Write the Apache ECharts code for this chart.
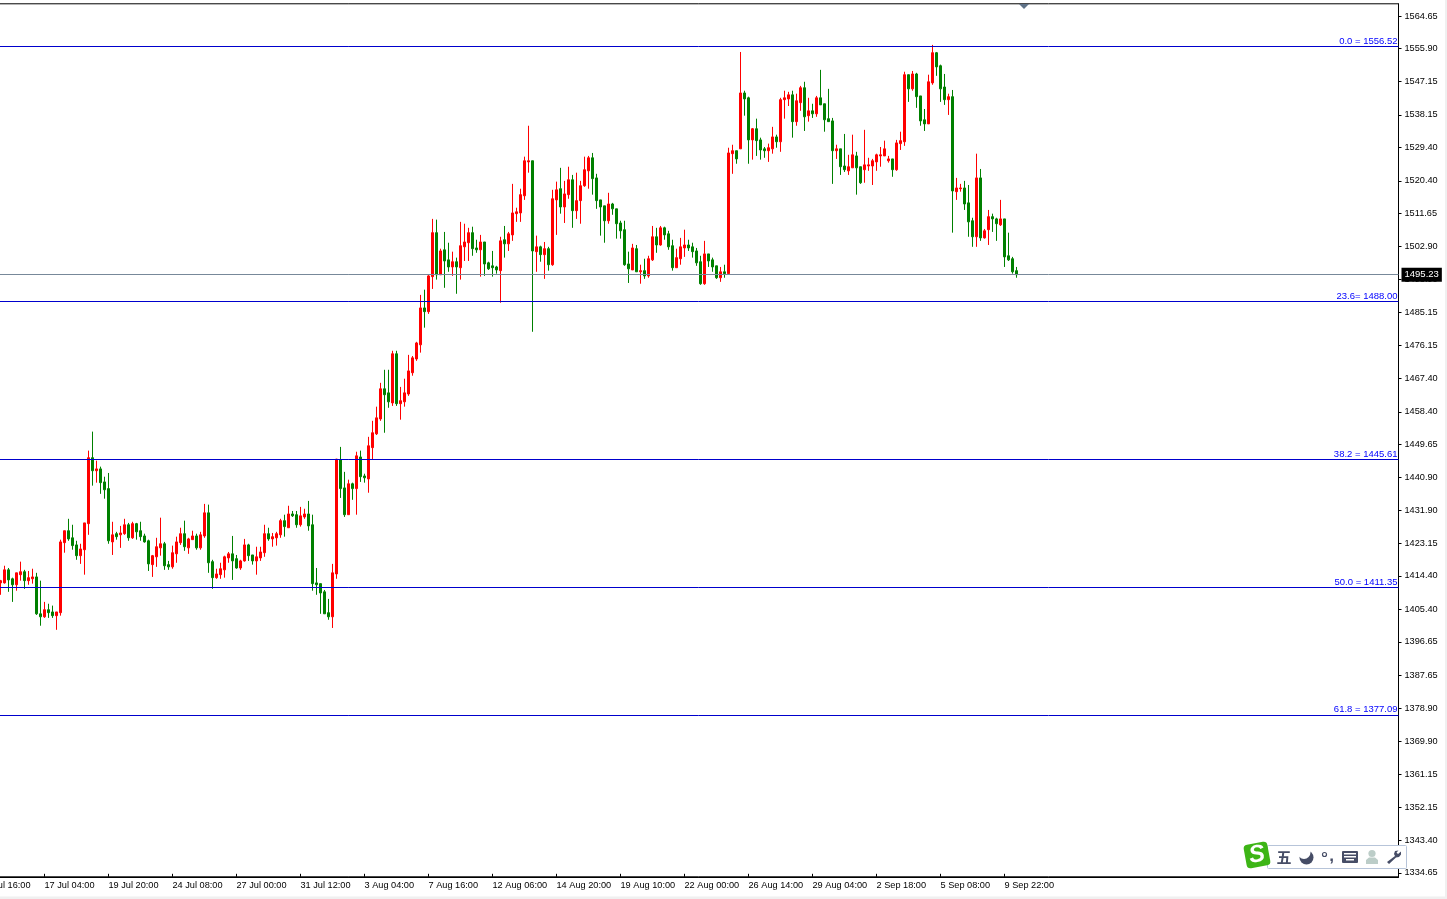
<!DOCTYPE html>
<html><head><meta charset="utf-8">
<style>html,body{margin:0;padding:0;background:#fff;overflow:hidden}#c{width:1447px;height:899px}</style>
<script src="https://cdn.jsdelivr.net/npm/echarts@6/dist/echarts.min.js"></script>
</head><body><div id="c"></div>
<script>
const tickLabels = ['12 Jul 16:00','17 Jul 04:00','19 Jul 20:00','24 Jul 08:00','27 Jul 00:00','31 Jul 12:00','3 Aug 04:00','7 Aug 16:00','12 Aug 06:00','14 Aug 20:00','19 Aug 10:00','22 Aug 00:00','26 Aug 14:00','29 Aug 04:00','2 Sep 18:00','5 Sep 08:00','9 Sep 22:00'];
const priceTicks = [1564.65,1555.90,1547.15,1538.15,1529.40,1520.40,1511.65,1502.90,1493.90,1485.15,1476.15,1467.40,1458.40,1449.65,1440.90,1431.90,1423.15,1414.40,1405.40,1396.65,1387.65,1378.90,1369.90,1361.15,1352.15,1343.40,1334.65];
const fibLevels = [1556.52,1488.00,1445.61,1411.35,1377.09];
const fibLabels = ['0.0 = 1556.52','23.6= 1488.00','38.2 = 1445.61','50.0 = 1411.35','61.8 = 1377.09'];
const lastPrice = 1495.23;
const bodyTop = [
1413.1,1416.0,1416.0,1413.6,1415.2,1415.5,1415.5,1413.9,1414.1,1414.1,
1404.2,1405.3,1405.3,1404.7,1404.7,1423.5,1426.5,1426.5,1424.6,1422.7,
1421.6,1428.6,1446.1,1446.1,1443.1,1443.1,1439.6,1437.8,1425.4,1425.7,
1425.9,1428.1,1428.1,1428.4,1428.4,1426.5,1425.1,1423.8,1419.8,1422.2,
1423.0,1423.0,1417.4,1420.6,1423.5,1425.7,1425.7,1424.3,1425.1,1425.1,
1425.4,1431.3,1431.3,1418.2,1414.9,1416.3,1419.5,1420.3,1420.3,1419.0,
1418.4,1422.7,1422.7,1420.0,1419.5,1420.8,1425.7,1425.7,1424.9,1425.7,
1429.2,1429.2,1431.0,1431.0,1430.8,1430.5,1431.0,1431.0,1428.1,1412.5,
1412.3,1410.1,1404.5,1415.2,1445.7,1445.5,1438.0,1439.1,1439.1,1446.6,
1446.3,1441.2,1449.3,1452.8,1456.8,1464.6,1464.6,1463.5,1474.0,1474.0,
1461.4,1463.5,1469.4,1472.9,1476.9,1486.3,1486.3,1494.9,1506.5,1506.5,
1501.6,1501.9,1499.2,1498.7,1498.7,1503.0,1504.0,1506.5,1506.5,1502.4,
1504.0,1504.0,1498.4,1497.6,1497.3,1504.3,1504.6,1506.2,1511.8,1512.1,
1516.7,1525.8,1525.8,1525.8,1502.7,1502.7,1502.2,1502.2,1515.6,1518.0,
1518.3,1516.9,1520.7,1520.7,1515.1,1519.1,1523.4,1526.6,1526.6,1521.2,
1515.3,1513.7,1514.2,1514.2,1512.9,1509.1,1507.3,1498.1,1502.4,1502.2,
1496.3,1496.3,1499.5,1505.4,1505.4,1507.8,1507.8,1506.2,1503.0,1499.8,
1502.7,1503.2,1503.2,1502.7,1501.6,1498.7,1500.8,1500.8,1499.2,1497.6,
1496.0,1496.0,1527.9,1528.5,1528.5,1544.0,1544.0,1542.7,1534.4,1534.4,
1531.4,1529.0,1529.3,1532.2,1532.2,1542.2,1542.7,1543.5,1543.5,1541.9,
1545.4,1545.4,1539.2,1539.2,1542.7,1542.7,1541.1,1537.1,1536.5,1529.0,
1529.0,1524.4,1524.2,1527.4,1527.1,1524.2,1524.7,1524.7,1525.8,1527.4,
1527.4,1529.0,1526.3,1526.3,1530.6,1531.2,1548.9,1548.9,1549.1,1549.1,
1543.2,1536.8,1547.0,1554.8,1554.8,1551.3,1545.6,1543.0,1543.0,1518.5,
1518.5,1518.5,1514.5,1509.7,1521.2,1521.2,1507.0,1510.8,1510.8,1510.2,
1510.2,1510.2,1500.3,1499.5,1496.3];
const bodyBottom = [
1412.5,1412.5,1413.3,1412.0,1412.0,1414.7,1413.1,1413.1,1413.6,1404.2,
1403.4,1403.4,1404.5,1403.7,1403.7,1404.5,1423.3,1424.3,1422.5,1419.8,
1419.8,1421.4,1428.4,1442.6,1442.6,1439.4,1437.5,1423.8,1423.5,1424.9,
1425.4,1425.7,1424.6,1424.6,1426.2,1424.9,1423.5,1417.6,1417.4,1419.5,
1421.9,1417.1,1416.8,1416.8,1420.3,1423.3,1422.2,1421.9,1424.1,1421.9,
1421.9,1425.1,1417.9,1413.9,1413.9,1414.7,1416.0,1419.2,1418.4,1416.5,
1416.5,1418.4,1419.8,1418.4,1418.4,1419.2,1420.6,1424.3,1424.3,1424.6,
1425.4,1427.6,1427.3,1430.5,1428.1,1428.1,1430.2,1427.8,1412.3,1412.0,
1409.8,1404.2,1403.4,1403.4,1414.9,1437.8,1430.8,1430.8,1437.8,1437.8,
1441.0,1440.7,1440.4,1448.8,1452.5,1456.5,1463.0,1461.1,1460.8,1460.6,
1460.6,1461.1,1463.2,1468.9,1472.6,1476.4,1485.3,1485.3,1494.7,1495.2,
1495.2,1498.9,1497.3,1497.3,1497.3,1497.1,1502.7,1503.8,1502.2,1501.9,
1501.9,1498.1,1496.8,1497.1,1496.5,1496.3,1503.5,1503.5,1505.9,1511.6,
1511.8,1516.4,1525.5,1501.6,1501.4,1500.6,1500.6,1497.9,1497.9,1515.3,
1513.4,1513.4,1516.7,1512.4,1512.4,1515.1,1519.1,1523.1,1521.0,1515.1,
1513.4,1509.7,1509.7,1512.9,1508.9,1507.0,1497.9,1496.8,1496.5,1496.0,
1496.0,1494.9,1494.9,1499.2,1503.2,1503.2,1505.9,1502.7,1497.1,1497.1,
1499.5,1502.4,1502.4,1501.4,1498.4,1492.8,1492.8,1498.9,1497.3,1494.4,
1494.4,1495.5,1495.5,1527.7,1526.3,1529.0,1542.4,1531.4,1531.4,1531.2,
1528.7,1528.5,1528.5,1529.0,1530.9,1530.9,1542.2,1542.4,1536.3,1536.3,
1541.4,1537.6,1537.9,1538.4,1538.4,1540.8,1536.8,1536.3,1528.5,1528.5,
1524.2,1523.4,1523.1,1523.9,1523.9,1519.9,1523.4,1524.4,1524.4,1525.5,
1527.1,1527.1,1525.8,1523.4,1523.4,1530.4,1530.9,1545.1,1545.1,1543.0,
1536.5,1535.7,1535.7,1546.7,1551.0,1545.1,1542.2,1542.2,1517.7,1517.5,
1518.3,1514.2,1509.4,1505.4,1505.4,1505.1,1505.1,1507.3,1510.2,1508.9,
1508.6,1500.0,1499.2,1496.0,1495.23];
const highs = [
1413.3,1417.1,1416.5,1413.9,1415.2,1418.2,1416.0,1415.7,1416.3,1415.2,
1413.1,1407.4,1406.9,1406.4,1404.7,1424.1,1426.5,1429.7,1428.1,1423.8,
1423.0,1428.6,1448.0,1453.1,1445.3,1443.7,1441.0,1442.0,1428.9,1426.2,
1427.8,1429.7,1428.6,1428.9,1428.6,1428.9,1425.7,1424.1,1420.0,1424.6,
1430.0,1423.5,1418.4,1422.5,1424.9,1427.3,1429.2,1424.6,1426.5,1425.7,
1426.2,1433.7,1433.5,1418.7,1416.3,1417.9,1419.8,1420.8,1425.1,1420.0,
1418.7,1424.3,1423.0,1420.0,1422.2,1422.2,1428.1,1427.3,1425.9,1426.2,
1429.7,1430.8,1433.2,1431.8,1431.8,1432.9,1432.4,1434.5,1430.8,1416.5,
1412.3,1410.6,1408.2,1417.6,1445.8,1449.0,1442.3,1440.2,1439.4,1447.7,
1448.0,1441.8,1451.7,1456.0,1459.8,1466.2,1469.7,1469.7,1474.8,1474.8,
1465.1,1467.3,1473.7,1473.4,1477.2,1489.8,1491.2,1495.2,1510.2,1510.0,
1502.2,1506.7,1503.8,1501.4,1499.8,1509.4,1508.9,1507.8,1508.1,1504.6,
1505.9,1504.0,1498.7,1501.6,1497.6,1505.4,1508.3,1506.7,1519.6,1513.2,
1518.3,1526.9,1535.2,1525.8,1505.7,1503.0,1504.0,1502.7,1518.0,1520.2,
1523.9,1520.4,1524.2,1522.0,1522.6,1520.4,1526.9,1527.1,1527.9,1522.3,
1515.3,1513.7,1517.2,1514.5,1512.9,1509.7,1509.7,1501.4,1503.5,1503.2,
1497.9,1499.5,1500.3,1508.3,1507.8,1508.3,1508.1,1507.0,1504.6,1502.2,
1505.1,1507.3,1504.6,1503.8,1502.4,1500.3,1504.3,1500.8,1499.8,1497.6,
1497.3,1497.9,1529.3,1530.1,1528.5,1555.0,1544.6,1543.0,1534.6,1537.1,
1532.0,1529.5,1530.4,1534.9,1532.8,1542.7,1544.6,1544.3,1544.6,1543.8,
1545.9,1547.0,1542.7,1541.1,1543.2,1550.2,1541.1,1545.1,1537.3,1530.1,
1529.0,1533.0,1527.4,1532.8,1528.2,1524.2,1534.1,1526.6,1526.3,1527.7,
1529.5,1531.2,1527.1,1526.3,1531.4,1533.6,1549.7,1548.9,1549.9,1549.4,
1543.2,1539.7,1548.9,1556.9,1555.0,1551.6,1549.1,1543.8,1544.8,1521.2,
1519.6,1520.4,1519.3,1510.5,1527.7,1523.6,1507.5,1512.6,1511.6,1510.5,
1515.3,1510.2,1506.5,1500.0,1497.3];
const lows = [
1409.3,1412.3,1410.1,1407.4,1410.4,1413.1,1410.9,1412.0,1412.3,1403.9,
1401.0,1403.1,1403.1,1403.1,1399.9,1403.7,1420.6,1423.8,1421.4,1418.7,
1417.6,1414.7,1425.4,1438.6,1439.4,1436.4,1435.1,1423.0,1420.0,1424.1,
1421.9,1425.4,1423.8,1424.3,1424.1,1423.8,1423.3,1415.7,1414.1,1416.8,
1419.8,1416.0,1416.0,1416.3,1417.9,1422.7,1421.1,1420.3,1424.1,1421.4,
1421.4,1424.6,1415.2,1410.9,1413.6,1413.6,1413.9,1417.9,1413.3,1416.3,
1416.0,1418.2,1418.4,1417.4,1414.7,1418.4,1419.5,1423.8,1422.2,1422.5,
1424.6,1424.9,1427.3,1430.2,1427.3,1427.6,1429.7,1426.5,1410.4,1409.3,
1404.2,1404.2,1402.6,1400.4,1413.6,1435.3,1430.2,1430.8,1434.8,1430.8,
1439.6,1439.4,1436.7,1445.5,1452.2,1456.0,1452.8,1459.5,1460.0,1460.0,
1456.3,1459.8,1462.7,1468.1,1472.1,1474.3,1481.0,1484.7,1491.4,1493.9,
1495.2,1491.7,1496.0,1494.9,1490.1,1493.9,1498.9,1498.9,1500.3,1501.1,
1494.7,1494.9,1496.5,1494.7,1495.5,1487.7,1499.8,1501.6,1504.3,1509.4,
1509.4,1515.3,1522.6,1479.9,1496.0,1498.7,1494.1,1496.3,1497.6,1505.9,
1511.6,1509.1,1515.6,1507.8,1510.2,1508.9,1518.8,1518.3,1516.7,1512.9,
1505.7,1503.8,1508.9,1511.3,1504.9,1504.9,1497.6,1493.0,1496.5,1496.0,
1492.8,1494.1,1494.4,1498.9,1501.1,1503.0,1504.6,1501.9,1496.3,1497.1,
1497.9,1500.0,1501.6,1499.8,1497.6,1492.5,1492.5,1497.3,1496.0,1494.1,
1493.3,1494.4,1495.5,1522.3,1525.0,1529.0,1537.9,1525.0,1526.1,1527.1,
1526.1,1526.6,1525.5,1527.7,1529.3,1528.2,1537.1,1540.5,1532.0,1535.2,
1539.2,1533.8,1536.3,1537.3,1537.6,1540.8,1533.6,1536.3,1519.6,1526.3,
1522.0,1522.8,1522.0,1523.9,1516.7,1519.6,1519.9,1523.1,1519.3,1523.1,
1524.2,1527.1,1525.3,1521.5,1523.1,1528.7,1529.8,1541.6,1544.6,1540.0,
1535.2,1533.8,1535.7,1546.2,1548.6,1541.6,1540.8,1538.1,1506.5,1515.3,
1517.5,1512.6,1505.4,1502.7,1502.7,1504.3,1504.9,1503.2,1506.7,1504.3,
1508.3,1497.3,1498.9,1495.5,1494.4];
const dirRows = [
'rrggrrgrrg','grggrrrggg','rrrgrgggrg','rrgrggggrr','rggrrrgrrg',
'rrggrrrrgg','rrggrrrgrr','rgrggrrggg','gggrrggrgr','ggrrrrggrg',
'rrrrrrgrrg','rggrgrrrgg','rggggrgrrr','rrrgrgrgrr','grrgrrrrgg',
'ggrgggggrg','rgrrgrgggr','rrggggrggg','rgrrgrggrg','ggrrgrrrgr',
'rgrgrggggr','ggrrggrrrr','rrrgrrrgrg','ggrrgggrgr','rgggrgrrgg',
'rgggg'];
const dirs = dirRows.join('');
const leadBars = 5, barCount = 355, labelEvery = 16;

const categories = [];
for (let i = 0; i < barCount; i++) {
  const n = i / labelEvery;
  categories.push(Number.isInteger(n) && tickLabels[n] ? tickLabels[n] : '');
}
const candles = bodyTop.map((t, k) => {
  const up = dirs[k] === 'r';
  return [k + leadBars, up ? bodyBottom[k] : t, up ? t : bodyBottom[k], lows[k], highs[k]];
});
const FONT = '"Liberation Sans"';
const fibLines = fibLevels.map((v, i) => ({
  yAxis: v,
  lineStyle: {color: '#0000cd', width: 1, type: 'solid'},
  label: {show: true, position: 'insideEndTop', formatter: fibLabels[i], color: '#0000ff', fontFamily: FONT, fontSize: 9.5, distance: 0, padding: [0, 1, 0, 0]}
}));
const lastLine = {
  yAxis: lastPrice,
  lineStyle: {color: '#778899', width: 1, type: 'solid'},
  label: {show: true, position: 'end', formatter: lastPrice.toFixed(2), color: '#fff', backgroundColor: '#000', fontFamily: FONT, fontSize: 9.5, padding: [2, 3, 2, 3], distance: 3}
};
const dark = '#464d66';
const widget = [
  {type:'rect', shape:{x:1267.5,y:845.5,width:139,height:23,r:1}, style:{fill:'#fff',stroke:'#b7c4d9',lineWidth:1}},
  {type:'rect', rotation:0.18, originX:1257, originY:855, shape:{x:1245,y:843,width:24,height:24,r:4}, style:{fill:'#3db516'}},
  {type:'text', rotation:0.18, originX:1257, originY:855, style:{x:1257,y:855,text:'S',fill:'#fff',font:'italic bold 24px "Liberation Sans"',align:'center',verticalAlign:'middle'}},
  {type:'text', style:{x:1284,y:857,text:'五',fill:dark,font:'bold 15px "Noto Sans CJK SC"',align:'center',verticalAlign:'middle'}},
  {type:'circle', shape:{cx:1306.5,cy:857.5,r:7}, style:{fill:dark}},
  {type:'circle', shape:{cx:1304,cy:852.5,r:6.5}, style:{fill:'#fff'}},
  {type:'circle', shape:{cx:1324.5,cy:854.5,r:2}, style:{fill:'#fff',stroke:dark,lineWidth:1.2}},
  {type:'text', style:{x:1331.5,y:856,text:',',fill:dark,font:'bold 17px "Liberation Sans"',align:'center',verticalAlign:'middle'}},
  {type:'rect', shape:{x:1342,y:851,width:16,height:12,r:1}, style:{fill:dark}},
  {type:'rect', shape:{x:1344,y:853,width:12,height:1.5}, style:{fill:'#fff'}},
  {type:'rect', shape:{x:1344,y:856,width:12,height:1.5}, style:{fill:'#fff'}},
  {type:'rect', shape:{x:1346,y:859,width:8,height:1.5}, style:{fill:'#fff'}},
  {type:'circle', shape:{cx:1372,cy:853.5,r:3.6}, style:{fill:'#bccdc8'}},
  {type:'polygon', shape:{points:[[1366,864],[1366,860],[1369,857.5],[1375,857.5],[1378,860],[1378,864]]}, style:{fill:'#bccdc8'}},
  {type:'polygon', shape:{points:[[1401,851.5],[1398,854],[1396.5,852.5],[1398.5,850.5],[1395,851],[1394,854],[1395,856],[1387,862],[1389,864],[1396,857.5],[1399,857],[1401,854.5]]}, style:{fill:dark}}
];
const chart = echarts.init(document.getElementById('c'), null, {renderer: 'canvas', width: 1447, height: 899});
chart.setOption({
  animation: false,
  backgroundColor: '#fff',
  grid: {show: true, left: -21.5, width: 1420, top: 3.8, height: 873, outerBoundsMode: 'none', containLabel: false, borderColor: '#000', borderWidth: 1, backgroundColor: '#fff'},
  xAxis: {
    type: 'category', data: categories, boundaryGap: true, position: 'bottom',
    axisLine: {show: true, lineStyle: {color: '#000', width: 1}},
    axisTick: {show: true, alignWithLabel: true, length: 3, inside: true, interval: (i) => i % labelEvery === 0 && !!tickLabels[i / labelEvery], lineStyle: {color: '#000', width: 1}},
    axisLabel: {interval: (i) => i % labelEvery === 0, align: 'left', color: '#000', fontFamily: FONT, fontSize: 9.2, margin: 4.2, hideOverlap: false, showMinLabel: true},
    splitLine: {show: false}
  },
  yAxis: {
    type: 'value', position: 'right', min: 1333.61, max: 1567.93, scale: true,
    axisLine: {show: true, onZero: false, lineStyle: {color: '#000', width: 1}},
    axisTick: {show: true, length: 3, customValues: priceTicks, lineStyle: {color: '#000', width: 1}},
    axisLabel: {customValues: priceTicks, align: 'left', color: '#000', fontFamily: FONT, fontSize: 9.2, margin: 6, formatter: (v) => v.toFixed(2)},
    splitLine: {show: false}
  },
  series: [{
    type: 'candlestick', data: candles, encode: {x: 0, y: [1, 2, 3, 4]}, barWidth: 2, clip: true,
    itemStyle: {color: '#ff0000', color0: '#008000', borderColor: '#ff0000', borderColor0: '#008000', borderWidth: 1},
    markLine: {silent: true, symbol: 'none', animation: false, data: [...fibLines, lastLine]}
  }],
  graphic: {elements: [
    {type:'polygon', shape:{points:[[1019,4],[1029,4],[1024,9]]}, style:{fill:'#5f7288'}, z:50},
    {type:'rect', shape:{x:0,y:896.5,width:1447,height:3}, style:{fill:'#f0f0f0'}, z:40},
    {type:'rect', shape:{x:1445,y:0,width:2,height:899}, style:{fill:'#f0f0f0'}, z:40},
    ...widget.map(e => ({...e, z: 60}))
  ]}
});
</script></body></html>
